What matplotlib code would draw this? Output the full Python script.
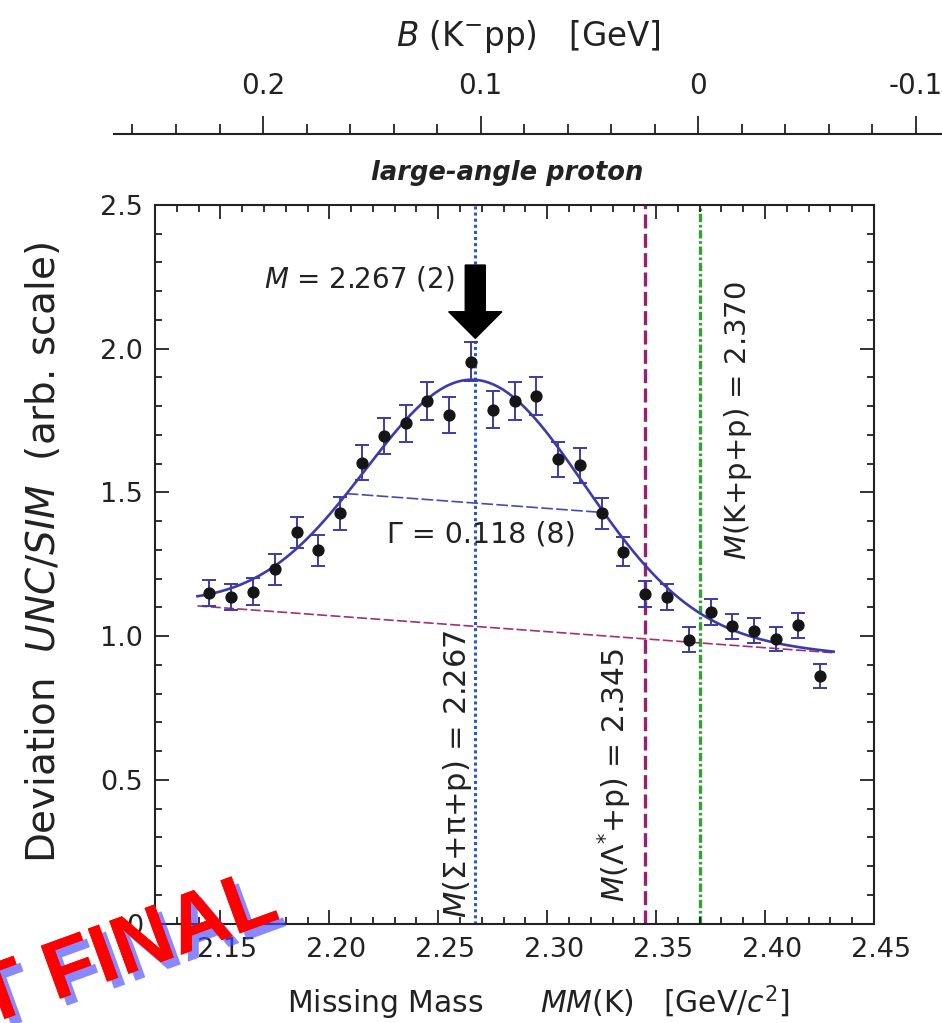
import numpy as np
import matplotlib.pyplot as plt
import matplotlib.patheffects as pe
import matplotlib.transforms as mtransforms
from matplotlib.patches import FancyArrow
from matplotlib.ticker import MultipleLocator, FixedLocator, FixedFormatter

plt.rcParams['font.family'] = ['DejaVu Sans']
plt.rcParams['mathtext.fontset'] = 'dejavusans'
plt.rcParams['axes.unicode_minus'] = False

# missing mass bins [GeV/c^2] and UNC/SIM ratio
mass = [2.145, 2.155, 2.165, 2.175, 2.185, 2.195, 2.205, 2.215, 2.225, 2.235,
        2.245, 2.255, 2.265, 2.275, 2.285, 2.295, 2.305, 2.315, 2.325, 2.335,
        2.345, 2.355, 2.365, 2.375, 2.385, 2.395, 2.405, 2.415, 2.425]
ratio = [1.149, 1.137, 1.155, 1.232, 1.361, 1.298, 1.427, 1.603, 1.696, 1.740,
         1.818, 1.769, 1.955, 1.788, 1.818, 1.835, 1.615, 1.594, 1.427, 1.294,
         1.145, 1.137, 0.988, 1.084, 1.034, 1.019, 0.990, 1.037, 0.860]
err = [0.045, 0.045, 0.047, 0.054, 0.055, 0.053, 0.058, 0.061, 0.062, 0.063,
       0.065, 0.064, 0.067, 0.065, 0.065, 0.066, 0.060, 0.060, 0.055, 0.050,
       0.045, 0.045, 0.042, 0.045, 0.043, 0.043, 0.043, 0.045, 0.042]

# fit: gaussian peak on a linear background
peak_M = 2.267
peak_G = 0.118
peak_amp = 0.858
fit_range = [2.1395, 2.4315]
bg_ends = [1.105, 0.942]

thresholds = {'sig_pi_p': 2.267, 'lam_p': 2.345, 'kpp': 2.370}

xt = np.linspace(fit_range[0], fit_range[1], 400)
bg = np.interp(xt, fit_range, bg_ends)
sig = peak_G / 2.3548
fit = bg + peak_amp * np.exp(-(xt - peak_M)**2 / (2 * sig**2))

blue = '#3b3bab'
ink = '#222222'

fig = plt.figure(figsize=(9.42, 10.23), dpi=100)
ax = fig.add_axes([155/942, 1 - 923.5/1023, 719/942, 718.5/1023])

ax.axvline(thresholds['sig_pi_p'], color='#2a58cc', lw=2.2, ls=(0, (1, 1)), zorder=1)
ax.axvline(thresholds['lam_p'], color='#9a1f6c', lw=2.4, ls=(0, (4.2, 1.6)), zorder=1)
ax.axvline(thresholds['kpp'], color='#35a035', lw=2.4, ls=(0, (2.5, 0.8, 0.8, 0.8)), zorder=1)

ax.plot(fit_range, bg_ends, color='#a3306f', lw=1.2, ls=(0, (6, 2)), zorder=2)
half_x = [peak_M - peak_G / 2, peak_M + peak_G / 2]
half_y = list(np.interp(half_x, fit_range, bg_ends) + peak_amp / 2)
ax.plot(half_x, half_y, color='#4848b8', lw=1.2, ls=(0, (7, 2)), zorder=2)
ax.plot(xt, fit, color=blue, lw=1.9, zorder=3)

ax.errorbar(mass, ratio, yerr=err, fmt='o', color='#151515', ms=7.8,
            ecolor=blue, elinewidth=1.4, capsize=4.7, capthick=1.4, zorder=4)

ax.set_xlim(2.12, 2.45)
ax.set_ylim(0, 2.5)
ax.xaxis.set_major_locator(FixedLocator([2.15, 2.20, 2.25, 2.30, 2.35, 2.40, 2.45]))
ax.xaxis.set_major_formatter(FixedFormatter(['2.15', '2.20', '2.25', '2.30', '2.35', '2.40', '2.45']))
ax.xaxis.set_minor_locator(MultipleLocator(0.01))
ax.yaxis.set_major_locator(FixedLocator([0, 0.5, 1.0, 1.5, 2.0, 2.5]))
ax.yaxis.set_major_formatter(FixedFormatter(['0', '0.5', '1.0', '1.5', '2.0', '2.5']))
ax.yaxis.set_minor_locator(MultipleLocator(0.1))
ax.tick_params(which='both', direction='in', top=True, right=True, width=1.3,
               labelsize=19.5, colors=ink)
ax.tick_params(which='major', length=10)
ax.tick_params(which='minor', length=5)
ax.tick_params(axis='x', pad=10)
ax.tick_params(axis='y', pad=8.5)
for s in ax.spines.values():
    s.set_linewidth(1.5)
    s.set_color(ink)

# x tick labels sit a little right of their ticks in the original
shift = mtransforms.ScaledTranslation(0.07, 0, fig.dpi_scale_trans)
for lab in ax.get_xticklabels():
    lab.set_transform(lab.get_transform() + shift)

ax.set_xlabel(r'Missing Mass      $\mathit{MM}$(K)   [GeV/$\mathit{c}^{2}$]', fontsize=21.5, color=ink)
ax.xaxis.set_label_coords(0.533, -0.083)
ax.set_ylabel(r'Deviation  $\mathit{UNC/SIM}$  (arb. scale)', fontsize=28, color=ink)
ax.yaxis.set_label_coords(-0.128, 0.517)
ax.set_title('large-angle proton', fontsize=18.5, fontweight='bold', fontstyle='italic',
             x=0.49, y=1.0, pad=18, color=ink)

# annotations
ax.text(2.170, 2.244, r'$\mathit{M}$ = 2.267 (2)', fontsize=20, ha='left', va='center', color=ink)
ax.add_patch(FancyArrow(peak_M, 2.291, 0, -0.255, width=0.0092, head_width=0.0244,
                        head_length=0.0926, length_includes_head=True, color='black', zorder=5))
ax.text(2.2698, 1.352, 'Γ = 0.118 (8)', fontsize=20.5, ha='center', va='center', color=ink)
ax.text(2.2587, 0.02, r'$\mathit{M}$(Σ+π+p) = 2.267', fontsize=22, rotation=90,
        ha='center', va='bottom', color=ink)
ax.text(2.3308, 0.075, r'$\mathit{M}$(Λ$^{*}$+p) = 2.345', fontsize=21.5, rotation=90,
        ha='center', va='bottom', color=ink)
ax.text(2.3874, 1.265, r'$\mathit{M}$(K+p+p) = 2.370', fontsize=21, rotation=90,
        ha='center', va='bottom', color=ink)

# binding energy scale B = M(K+p+p) - MM
axt = fig.add_axes([114/942, 1 - 134.3/1023 - 0.0005, 828/942, 0.0005])
axt.patch.set_visible(False)
axt.set_xlim(thresholds['kpp'] - 2.1015, thresholds['kpp'] - 2.482)
for side in ['bottom', 'left', 'right']:
    axt.spines[side].set_visible(False)
axt.spines['top'].set_linewidth(1.5)
axt.spines['top'].set_color(ink)
axt.set_yticks([])
axt.xaxis.tick_top()
axt.xaxis.set_label_position('top')
axt.xaxis.set_major_locator(FixedLocator([0.2, 0.1, 0.0, -0.1]))
axt.xaxis.set_major_formatter(FixedFormatter(['0.2', '0.1', '0', '-0.1']))
axt.xaxis.set_minor_locator(MultipleLocator(0.02))
axt.tick_params(axis='x', which='both', direction='out', width=1.3, labelsize=20,
                pad=12, colors=ink)
axt.tick_params(axis='x', which='major', length=12.7)
axt.tick_params(axis='x', which='minor', length=7.2)
axt.set_xlabel(r'$\mathit{B}$ (K$^{-}$pp)   [GeV]', fontsize=23.5, labelpad=19, color=ink)

# stamp
fig.text(282/942, 1 - 918/1023, 'NOT FINAL', fontsize=59, fontweight='bold', color='#ff0000',
         family='Liberation Sans', rotation=20, rotation_mode='anchor', ha='right',
         va='baseline', zorder=10,
         path_effects=[pe.withSimplePatchShadow(offset=(5, -5), shadow_rgbFace='#4a4aff', alpha=0.65),
                       pe.Normal()])

fig.savefig('out.png', dpi=100)
